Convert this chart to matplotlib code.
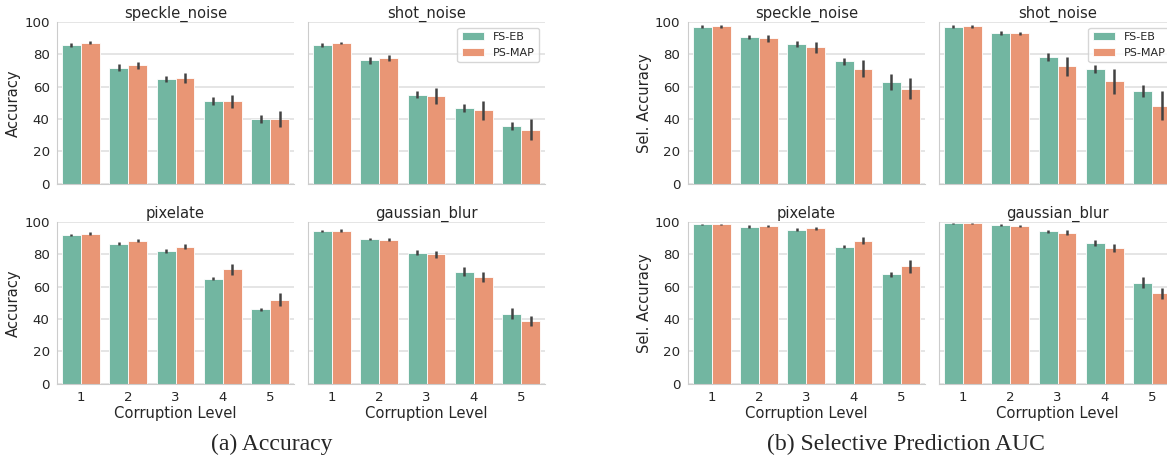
import colorsys
import matplotlib
matplotlib.use("Agg")
import matplotlib.pyplot as plt
import matplotlib.colors as mcolors
import seaborn as sns

sns.set_style("whitegrid")
plt.rcParams["font.family"] = ["DejaVu Sans"]

# Dados
levels = [1, 2, 3, 4, 5]
methods = ["FS-EB", "PS-MAP"]
corruptions = ["speckle_noise", "shot_noise", "pixelate", "gaussian_blur"]

# (a) Accuracy: médias e meia-largura das barras de erro
acc_fseb = {
    "speckle_noise": [85.7, 71.8, 64.6, 51.3, 40.0],
    "shot_noise": [85.5, 76.2, 54.9, 47.0, 35.4],
    "pixelate": [92.3, 86.7, 82.2, 65.0, 46.2],
    "gaussian_blur": [94.4, 89.6, 81.2, 69.4, 43.3],
}
acc_fseb_err = {
    "speckle_noise": [1.0, 1.9, 2.0, 2.4, 2.7],
    "shot_noise": [1.2, 2.0, 2.2, 2.5, 2.4],
    "pixelate": [0.7, 0.9, 1.2, 1.0, 0.9],
    "gaussian_blur": [0.7, 0.9, 1.3, 2.7, 3.5],
}
acc_psmap = {
    "speckle_noise": [87.2, 73.1, 65.4, 50.9, 39.8],
    "shot_noise": [87.0, 77.8, 54.0, 45.3, 33.3],
    "pixelate": [93.0, 88.6, 84.9, 70.8, 52.0],
    "gaussian_blur": [94.6, 89.2, 80.1, 65.9, 39.1],
}
acc_psmap_err = {
    "speckle_noise": [0.8, 2.3, 3.0, 4.2, 5.0],
    "shot_noise": [0.9, 1.8, 5.0, 5.9, 6.4],
    "pixelate": [0.7, 0.9, 1.4, 3.3, 3.9],
    "gaussian_blur": [0.9, 1.1, 2.0, 3.0, 3.1],
}

# (b) Selective Prediction AUC
sel_fseb = {
    "speckle_noise": [97.1, 90.9, 86.3, 75.6, 62.9],
    "shot_noise": [97.1, 93.0, 78.3, 70.8, 57.1],
    "pixelate": [98.6, 97.3, 95.4, 84.9, 67.7],
    "gaussian_blur": [99.2, 98.1, 94.4, 87.2, 62.5],
}
sel_fseb_err = {
    "speckle_noise": [0.8, 1.2, 1.7, 2.3, 5.0],
    "shot_noise": [0.8, 1.2, 2.2, 2.6, 3.8],
    "pixelate": [0.5, 0.7, 0.7, 0.8, 1.4],
    "gaussian_blur": [0.5, 0.6, 0.9, 1.7, 3.4],
}
sel_psmap = {
    "speckle_noise": [97.3, 89.9, 84.3, 71.2, 58.6],
    "shot_noise": [97.3, 93.0, 72.5, 63.4, 48.2],
    "pixelate": [98.6, 97.7, 96.1, 88.6, 72.7],
    "gaussian_blur": [99.2, 97.5, 93.6, 84.1, 55.9],
}
sel_psmap_err = {
    "speckle_noise": [0.8, 2.2, 3.2, 5.0, 6.5],
    "shot_noise": [0.8, 1.1, 6.1, 7.8, 9.0],
    "pixelate": [0.5, 0.6, 0.9, 2.0, 4.0],
    "gaussian_blur": [0.5, 0.7, 1.3, 2.6, 3.6],
}


def desaturar(cor, fator=0.75):
    r, g, b = mcolors.to_rgb(cor)
    h, l, s = colorsys.rgb_to_hls(r, g, b)
    return colorsys.hls_to_rgb(h, l, s * fator)


cores = [desaturar("#66c2a5"), desaturar("#fc8d62")]

W, H = 1167, 458
fig = plt.figure(figsize=(W / 100, H / 100), dpi=100)


def novo_eixo(x0, topo, w=236.5, h=161.5):
    return fig.add_axes([x0 / W, 1 - (topo + h) / H, w / W, h / H])


def plot_grupo(x_esq, x_dir, medias, erros, ylabel):
    posicoes = [(x_esq, 22), (x_dir, 22), (x_esq, 222.2), (x_dir, 222.2)]
    for i, nome in enumerate(corruptions):
        ax = novo_eixo(*posicoes[i])
        x = list(range(len(levels)))
        for j in range(2):
            xs = [k - 0.2 + 0.4 * j for k in x]
            ax.bar(xs, medias[j][nome], width=0.4, color=cores[j],
                   edgecolor="white", linewidth=0.6, label=methods[j], zorder=2)
            ax.errorbar(xs, medias[j][nome], yerr=erros[j][nome], fmt="none",
                        ecolor="#424242", elinewidth=1.8, capsize=0, zorder=3)
        ax.set_xlim(-0.5, 4.5)
        ax.set_ylim(0, 100)
        ax.set_yticks([0, 20, 40, 60, 80, 100])
        ax.set_xticks(x)
        ax.set_title(nome, fontsize=10.6, color=".15", pad=3)
        ax.tick_params(labelsize=9.6, colors=".15", pad=2)
        ax.grid(axis="x", visible=False)
        ax.grid(axis="y", color="#dedede", linewidth=1.1)
        ax.set_axisbelow(True)
        sns.despine(ax=ax)
        if i % 2 == 0:
            ax.set_ylabel(ylabel, fontsize=10.6, color=".15", labelpad=2)
        else:
            ax.set_yticklabels([])
        if i >= 2:
            ax.set_xticklabels([str(n) for n in levels])
            ax.set_xlabel("Corruption Level", fontsize=10.6, color=".15", labelpad=1)
        else:
            ax.set_xticklabels([])
        if i == 1:
            ax.legend(loc="upper right", fontsize=8, frameon=True)


plot_grupo(57.3, 308.3, [acc_fseb, acc_psmap], [acc_fseb_err, acc_psmap_err], "Accuracy")
plot_grupo(688, 939.3, [sel_fseb, sel_psmap], [sel_fseb_err, sel_psmap_err], "Sel. Accuracy")

fig.text(272 / W, 1 - 450 / H, "(a) Accuracy", family="Liberation Serif",
         fontsize=17, ha="center", va="baseline")
fig.text(906 / W, 1 - 450 / H, "(b) Selective Prediction AUC", family="Liberation Serif",
         fontsize=17, ha="center", va="baseline")

fig.savefig("out.png", dpi=100)
